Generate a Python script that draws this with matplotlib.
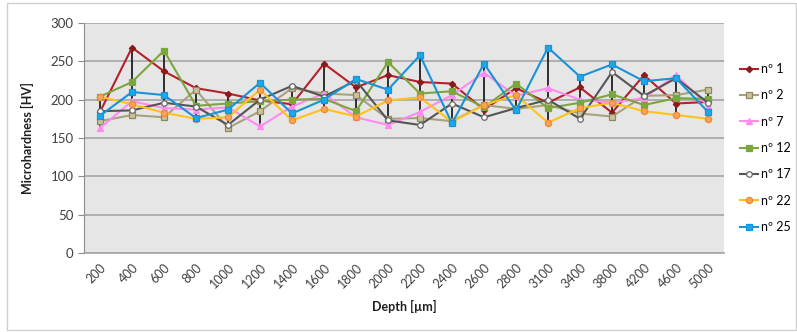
import matplotlib
matplotlib.use("Agg")
import matplotlib.pyplot as plt
import numpy as np

plt.rcParams['font.family'] = ['Lato', 'DejaVu Sans']

depths = ["200", "400", "600", "800", "1000", "1200", "1400", "1600", "1800", "2000",
          "2200", "2400", "2600", "2800", "3100", "3400", "3800", "4200", "4600", "5000"]

n1  = [184, 268, 237, 215, 208, 199, 194, 247, 216, 232, 223, 221, 187, 215, 196, 216, 183, 232, 195, 197]
n2  = [172, 180, 177, 213, 163, 185, 215, 208, 206, 175, 176, 172, 193, 188, 193, 182, 178, 205, 206, 213]
n7  = [163, 198, 189, 187, 190, 165, 191, 208, 177, 167, 184, 206, 235, 205, 215, 200, 196, 202, 232, 192]
n12 = [204, 223, 264, 192, 195, 198, 200, 201, 185, 249, 208, 211, 190, 221, 189, 196, 207, 193, 202, 201]
n17 = [185, 186, 196, 191, 167, 200, 218, 204, 225, 173, 167, 195, 177, 189, 200, 175, 236, 205, 228, 196]
n22 = [204, 194, 183, 175, 177, 213, 173, 188, 178, 199, 203, 171, 193, 206, 170, 189, 196, 185, 180, 175]
n25 = [179, 210, 206, 176, 187, 222, 182, 200, 227, 213, 258, 169, 247, 186, 268, 230, 246, 224, 228, 184]

series = [
    ("nº 1",  n1,  dict(color="#B3222A", marker="D", ms=3.2, mfc="#8B1A1A", mec="#8B1A1A")),
    ("nº 2",  n2,  dict(color="#A8A27C", marker="s", ms=4.5, mfc="#C9C29A", mec="#8F8960")),
    ("nº 7",  n7,  dict(color="#FF8BF0", marker="^", ms=4.5, mfc="#FF8BF0", mec="#FF8BF0")),
    ("nº 12", n12, dict(color="#7BA63D", marker="s", ms=4.0, mfc="#7BA63D", mec="#7BA63D")),
    ("nº 17", n17, dict(color="#555555", marker="o", ms=4.0, mfc="white", mec="#666666")),
    ("nº 22", n22, dict(color="#FFC21A", marker="o", ms=4.5, mfc="#F8A450", mec="#F0883A")),
    ("nº 25", n25, dict(color="#1A93D6", marker="s", ms=4.5, mfc="#19A9EC", mec="#1A93D6")),
]

fig = plt.figure(figsize=(7.97, 3.32), dpi=100)
ax = fig.add_axes([84/797, 1-253/332, (724-84)/797, (253-23)/332])
ax.set_facecolor("#E6E6E6")

x = np.arange(len(depths))
allv = np.array([s[1] for s in series])
ax.vlines(x, allv.min(axis=0), allv.max(axis=0), colors="#202020", lw=1.3, zorder=2)

handles = []
for name, vals, st in series:
    h, = ax.plot(x, vals, lw=1.5, label=name, zorder=3, mew=0.9, **st)
    handles.append(h)

ax.set_ylim(0, 300)
ax.set_yticks(np.arange(0, 301, 50))
ax.set_xlim(-0.5, len(depths) - 0.5)
ax.set_xticks(x)
ax.set_xticklabels(depths, rotation=45, ha="right", rotation_mode="anchor", fontsize=9, color="#404040")
ax.tick_params(axis="y", labelsize=9.5, colors="#404040", length=4, color="#8C8C8C")
ax.tick_params(axis="x", length=0, pad=6)
ax.grid(axis="y", color="#A6A6A6", lw=1.2, zorder=0)
ax.set_axisbelow(True)
for sp in ["top", "right"]:
    ax.spines[sp].set_visible(False)
ax.spines["left"].set_color("#8C8C8C")
ax.spines["bottom"].set_color("#A6A6A6")
ax.spines["bottom"].set_linewidth(1.2)

ax.set_ylabel("Microhardness [HV]", fontsize=9, fontweight="bold", color="#202020", labelpad=12)
ax.set_xlabel("Depth [µm]", fontsize=9, fontweight="bold", color="#202020", labelpad=7)

leg = fig.legend(handles=handles, loc="center left", bbox_to_anchor=(740/797, 1-148/332),
                 frameon=False, fontsize=9, handlelength=1.4, labelspacing=1.15,
                 handletextpad=0.3, borderaxespad=0, borderpad=0)

fig.patches.append(plt.Rectangle((7/797, 2/332), 1-8/797, 1-5/332, transform=fig.transFigure,
                                 fill=False, edgecolor="#D0D0D0", lw=1))

fig.savefig("out.png", dpi=100)
